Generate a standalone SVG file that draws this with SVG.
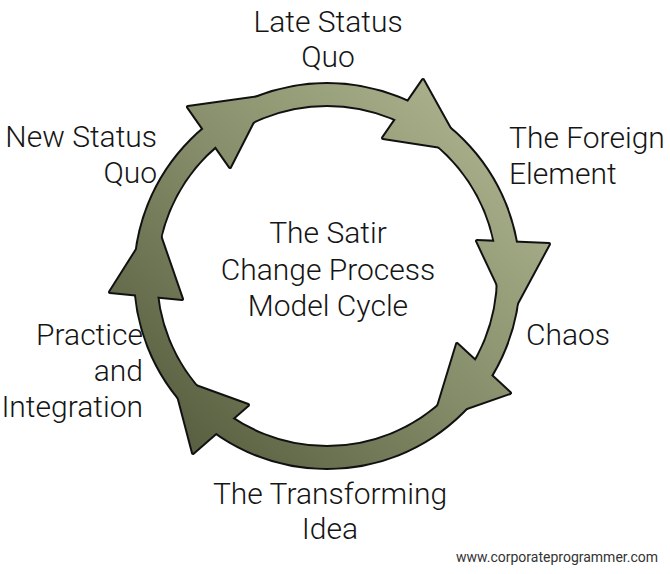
<svg xmlns="http://www.w3.org/2000/svg" xmlns:xlink="http://www.w3.org/1999/xlink" width="670" height="574" viewBox="0 0 670 574">
<style>
.lbl{font-family:Roboto,"Liberation Sans",sans-serif;font-weight:300;font-size:30px;fill:#151515}
.mid{text-anchor:middle}
.end{text-anchor:end}
.wm{font-family:Roboto,"Liberation Sans",sans-serif;font-weight:400;font-size:14px;fill:#333;text-anchor:end}
</style>
<defs>
<linearGradient id="g" gradientUnits="userSpaceOnUse" x1="470" y1="130" x2="180" y2="430">
<stop offset="0" stop-color="#a7ae89"/>
<stop offset="0.5" stop-color="#838b68"/>
<stop offset="1" stop-color="#5a6142"/>
</linearGradient>
<g id="shape">
<path fill-rule="evenodd" d="M327 84A192 192 0 1 1 327 468A192 192 0 1 1 327 84ZM327 105A171 171 0 1 0 327 447A171 171 0 1 0 327 105Z"/>
<polygon points="188,107 275,95 256,116 230,167"/>
<polygon points="423,80 453,134 448,148 383,138"/>
<polygon points="549,244 514,309 501,292 477,241"/>
<polygon points="510,393 458,411 436,413 457,344"/>
<polygon points="193,453 176,388 190,384 248,405"/>
<polygon points="110,292 141,243 158.5,231 182,299"/>
</g>
</defs>
<g id="connectors">
<use xlink:href="#shape" fill="none" stroke="#111" stroke-width="4" stroke-linejoin="round"/>
<use xlink:href="#shape" fill="url(#g)" stroke="none"/>
</g>
<g id="center"><text class="lbl mid" x="328" y="243">The Satir</text><text class="lbl mid" x="328" y="279.5">Change Process</text><text class="lbl mid" x="328" y="316">Model Cycle</text></g>
<g id="late-status-quo"><text class="lbl mid" x="328" y="31.5">Late Status</text><text class="lbl mid" x="328" y="66.5">Quo</text></g>
<g id="foreign-element"><text class="lbl" x="509" y="148">The Foreign</text><text class="lbl" x="509" y="184">Element</text></g>
<g id="chaos"><text class="lbl" x="526" y="345">Chaos</text></g>
<g id="transforming-idea"><text class="lbl mid" x="330" y="504">The Transforming</text><text class="lbl mid" x="330" y="539">Idea</text></g>
<g id="practice-integration"><text class="lbl end" x="143" y="345">Practice</text><text class="lbl end" x="143" y="381">and</text><text class="lbl end" x="143" y="416.5">Integration</text></g>
<g id="new-status-quo"><text class="lbl end" x="157" y="146.5">New Status</text><text class="lbl end" x="157" y="182.5">Quo</text></g>
<text class="wm" x="658" y="562">www.corporateprogrammer.com</text>
</svg>
